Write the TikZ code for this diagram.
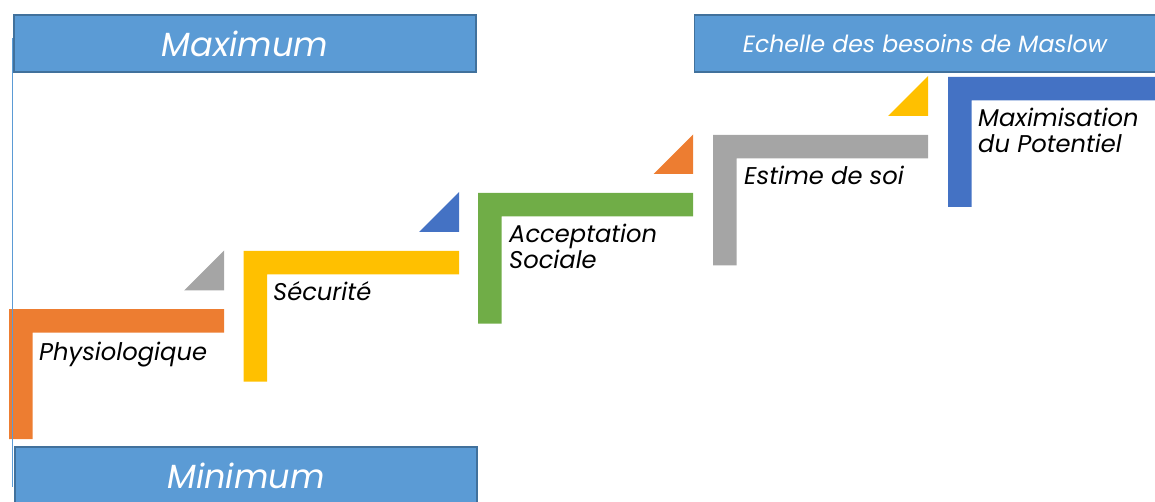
\documentclass[tikz,border=0pt]{standalone}
\usepackage{fontspec}
\setmainfont{Poppins}
\usepackage{tikz}

\definecolor{bannerfill}{HTML}{5B9BD5}
\definecolor{bannerline}{HTML}{41719C}
\definecolor{needorange}{HTML}{ED7D31}
\definecolor{needyellow}{HTML}{FFC000}
\definecolor{needgreen}{HTML}{70AD47}
\definecolor{needgray}{HTML}{A5A5A5}
\definecolor{needblue}{HTML}{4472C4}

\begin{document}
\begin{tikzpicture}[x=1pt,y=-1pt,
 banner/.style={draw=bannerline,line width=1.5pt,fill=bannerfill,text=white,inner sep=0pt,
   minimum width=462pt,minimum height=57pt,font=\itshape\fontsize{33.5}{40}\selectfont},
 needname/.style={anchor=base west,inner sep=0pt,align=left,
   font=\itshape\fontsize{24.2}{25.5}\selectfont}]
\useasboundingbox (0,0) rectangle (1155,502);

% the five steps of the stair, bottom to top
\fill[needorange] (9,309) -- (224,309) -- (224,332.5) -- (32.5,332.5) -- (32.5,439) -- (9,439) -- cycle;
\fill[needyellow] (243.5,251) -- (459,251) -- (459,274.5) -- (267,274.5) -- (267,381.5) -- (243.5,381.5) -- cycle;
\fill[needgreen] (478,193) -- (693,193) -- (693,216.5) -- (501.5,216.5) -- (501.5,323.5) -- (478,323.5) -- cycle;
\fill[needgray] (713,135) -- (928,135) -- (928,158.5) -- (736.5,158.5) -- (736.5,265.5) -- (713,265.5) -- cycle;
\fill[needblue] (948,77) -- (1163,77) -- (1163,100.5) -- (971.5,100.5) -- (971.5,207) -- (948,207) -- cycle;

% small corner triangles between the steps
\fill[needgray] (184,290.5) -- (224,250.5) -- (224,290.5) -- cycle;
\fill[needblue] (419,232) -- (459,192) -- (459,232) -- cycle;
\fill[needorange] (653.5,174) -- (693,134.5) -- (693,174) -- cycle;
\fill[needyellow] (888,116) -- (928,76) -- (928,116) -- cycle;

% thin axis on the left
\draw[bannerfill,line width=1pt] (12,38) -- (12,487);

\node[banner] (maxi) at (245,43.5) {Maximum};
\node[banner,minimum width=461pt,font=\itshape\fontsize{23.6}{28}\selectfont] (title) at (925,43.5)
 {Echelle des besoins de Maslow};
\node[banner] (mini) at (246,475.5) {Minimum};

% labels sit on their step; two-line ones are anchored on the last line
\node[needname] (physio) at (39,360) {Physiologique};
\node[needname] (secu) at (273,301) {Sécurité};
\node[needname] (social) at (509,268.5) {Acceptation\\Sociale};
\node[needname] (estime) at (744,185) {Estime de soi};
\node[needname] (potentiel) at (978,152.5) {Maximisation\\du Potentiel};
\end{tikzpicture}
\end{document}
